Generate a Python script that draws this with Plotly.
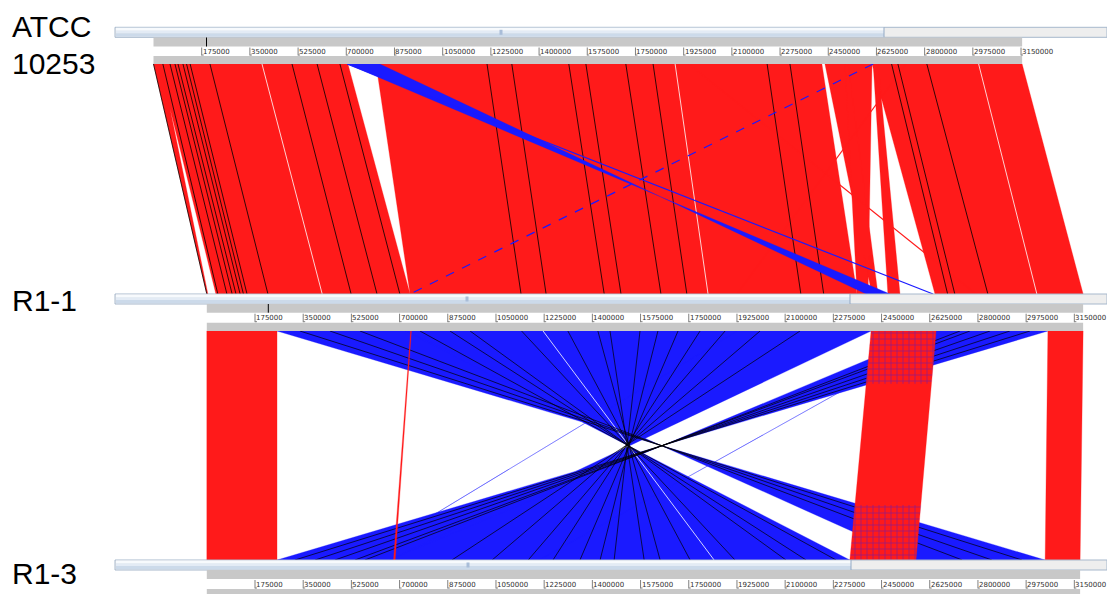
import plotly.graph_objects as go

# ---------------- data (positions in kb) ----------------
genome_len_kb = [3154, 3182, 3171]          # ATCC 10253, R1-1, R1-3
tick_kb = [175, 350, 525, 700, 875, 1050, 1225, 1400, 1575, 1750,
           1925, 2100, 2275, 2450, 2625, 2800, 2975, 3150]
tick_labels = [str(t * 1000) for t in tick_kb]

# Panel 1 : ATCC 10253 (upper) vs R1-1 (lower)
p1_red_q = [(0, 27), (20, 706), (808, 2427), (2438, 2522), (2511, 2609), (2613, 2631), (2609, 3154)]
p1_red_s = [(0, 4), (33, 738), (738, 2361), (2415, 2437), (2361, 2401), (2473, 2517), (2644, 3182)]
p1_red_thin = [(2732, 1925), (1944, 2793)]
p1_blue_q = [(703, 822)]
p1_blue_s = [(2394, 2481)]
p1_blue_thin = [(703, 2637)]
p1_blue_dash = [(2613, 738)]
p1_black = [(0, 0), (34, 40), (60, 73), (78, 92), (89, 106), (107, 121), (120, 133),
            (133, 146), (205, 222), (503, 524), (594, 618), (677, 701), (1211, 1141),
            (1301, 1232), (1508, 1443), (1570, 1504), (1715, 1649), (1814, 1743),
            (2228, 2157), (2311, 2240), (2703, 2716), (2808, 2836), (2680, 2690)]
p1_white = [(394, 419), (1894, 1820), (2996, 3014)]

# Panel 2 : R1-1 (upper) vs R1-3 (lower)
p2_red_q = [(0, 255), (2412, 2648), (3054, 3182), (740, 743)]
p2_red_s = [(0, 255), (2335, 2575), (3044, 3171), (678, 684)]
p2_blue_q = [(255, 723), (723, 2412), (2648, 3054), (1925, 1927), (2694, 2696)]
p2_blue_s = [(2575, 3044), (662, 2335), (255, 662), (552, 554), (1206, 1208)]
p2_black = [(48, 48), (81, 81), (171, 171),
            (774, 2285), (883, 2176), (956, 2103), (1143, 1918), (1311, 1755),
            (1420, 1646), (1464, 1588), (1573, 1479), (1638, 1428), (1711, 1355),
            (1791, 1257), (1882, 1167), (2009, 1036), (2154, 890),
            (338, 2960), (447, 2851), (556, 2743),
            (2735, 574), (2771, 538), (2844, 465), (2916, 393), (2989, 320)]
p2_white = [(1221, 1842)]
p2_hatch = [(2412, 2648, 2335, 2575, 0.0, 0.23), (2412, 2648, 2335, 2575, 0.76, 1.0)]

# ---------------- layout constants ----------------
FIG_W, FIG_H = 1107, 594
BP_PER_PX = 3631.0
REF_PX = 206.8
ORIGIN_PX = [153.5, 206.8, 206.8]
x_off = [(o - REF_PX) * BP_PER_PX for o in ORIGIN_PX]
x_range = [-REF_PX * BP_PER_PX, (FIG_W - REF_PX) * BP_PER_PX]
PANELS = [(64, 294), (331, 560)]
RED = "#FF1A1A"
BLUE = "#1A1AFF"


def gx(track, kb):
    return kb * 1000.0 + x_off[track]


def px(x):
    return x / FIG_W


fig = go.Figure()


def add_blocks(qs, ss, upper, panel, color, reverse):
    yt, yb = PANELS[panel]
    xs, ys = [], []
    for (q1, q2), (s1, s2) in zip(qs, ss):
        a1, a2 = gx(upper, q1), gx(upper, q2)
        b1, b2 = gx(upper + 1, s1), gx(upper + 1, s2)
        if reverse:
            xs += [a1, a2, b1, b2, a1, None]
        else:
            xs += [a1, a2, b2, b1, a1, None]
        ys += [yt, yt, yb, yb, yt, None]
    fig.add_trace(go.Scatter(x=xs, y=ys, mode="lines", fill="toself",
                             fillcolor=color, line=dict(width=0.3, color=color),
                             hoverinfo="skip", showlegend=False))


def add_lines(pairs, upper, panel, color, width=0.8, dash="solid"):
    yt, yb = PANELS[panel]
    xs, ys = [], []
    for q, s in pairs:
        xs += [gx(upper, q), gx(upper + 1, s), None]
        ys += [yt, yb, None]
    fig.add_trace(go.Scatter(x=xs, y=ys, mode="lines",
                             line=dict(width=width, color=color, dash=dash),
                             hoverinfo="skip", showlegend=False))


def add_hatch(items, upper, panel):
    yt, yb = PANELS[panel]
    for q1, q2, s1, s2, f0, f1 in items:
        a1, a2 = gx(upper, q1), gx(upper, q2)
        b1, b2 = gx(upper + 1, s1), gx(upper + 1, s2)
        l0 = a1 + (b1 - a1) * f0
        r0 = a2 + (b2 - a2) * f0
        l1 = a1 + (b1 - a1) * f1
        r1 = a2 + (b2 - a2) * f1
        y0 = yt + (yb - yt) * f0
        y1 = yt + (yb - yt) * f1
        fig.add_trace(go.Scatter(
            x=[l0, r0, r1, l1, l0], y=[y0, y0, y1, y1, y0], mode="lines",
            fill="toself", fillcolor="rgba(0,0,0,0)",
            fillpattern=dict(shape="+", fgcolor=BLUE, size=6, solidity=0.22),
            line=dict(width=0), hoverinfo="skip", showlegend=False))


# panel 1 : red first, blue over
add_blocks(p1_red_q, p1_red_s, 0, 0, RED, False)
add_lines(p1_red_thin, 0, 0, RED, 1.2)
add_lines(p1_white, 0, 0, "white", 0.8)
add_lines(p1_black, 0, 0, "black", 0.8)
add_blocks(p1_blue_q, p1_blue_s, 0, 0, BLUE, True)
add_lines(p1_blue_thin, 0, 0, BLUE, 1.2)
add_lines(p1_blue_dash, 0, 0, BLUE, 1.2, "dash")

# panel 2 : blue first, red over
add_blocks(p2_blue_q, p2_blue_s, 1, 1, BLUE, True)
add_lines(p2_white, 1, 1, "white", 0.8)
add_lines(p2_black, 1, 1, "black", 0.7)
add_blocks(p2_red_q, p2_red_s, 1, 1, RED, False)
add_hatch(p2_hatch, 1, 1)

shapes = []
annotations = []

# scrollbars : (y0, y1, thumb_end_px, grip_px)
SCROLL = [(27.3, 37.3, 884, 501), (294, 304, 850, 467), (560, 570, 851, 468)]
# rulers : (gray1_y0, white_y0, white_y1, gray2_y1)
RULER = [(37.5, 46.5, 56, 64), (304, 312.7, 322.7, 331), (570, 579, 589, 600)]

for t in range(3):
    y0, y1, tend, grip = SCROLL[t]
    shapes.append(dict(type="rect", xref="paper", yref="y", x0=px(115), x1=1,
                       y0=y0, y1=y1, fillcolor="#EEEEEE",
                       line=dict(color="#A7B8CC", width=1), layer="above"))
    h = (y1 - y0)
    stripes = [("#F7FAFD", 0.0, 0.3), ("#E3EBF5", 0.3, 0.6), ("#CCDAEA", 0.6, 1.0)]
    for col, f0, f1 in stripes:
        shapes.append(dict(type="rect", xref="paper", yref="y", x0=px(116), x1=px(tend),
                           y0=y0 + 0.5 + f0 * (h - 1), y1=y0 + 0.5 + f1 * (h - 1),
                           fillcolor=col, line=dict(width=0), layer="above"))
    shapes.append(dict(type="line", xref="paper", yref="y", x0=px(tend), x1=px(tend),
                       y0=y0, y1=y1, line=dict(color="#93A9C4", width=1), layer="above"))
    shapes.append(dict(type="rect", xref="paper", yref="y", x0=px(grip - 1.5), x1=px(grip + 1.5),
                       y0=y0 + 2.5, y1=y1 - 2.5, fillcolor="#A9BDD8",
                       line=dict(width=0), layer="above"))

    g0, w0, w1, g1 = RULER[t]
    xa, xb = gx(t, 0), gx(t, genome_len_kb[t])
    shapes.append(dict(type="rect", xref="x", yref="y", x0=xa, x1=xb, y0=g0, y1=w0,
                       fillcolor="#C8C8C8", line=dict(width=0), layer="above"))
    shapes.append(dict(type="rect", xref="x", yref="y", x0=xa, x1=xb, y0=w1, y1=g1,
                       fillcolor="#C8C8C8", line=dict(width=0), layer="above"))
    for kb, lab in zip(tick_kb, tick_labels):
        xt = gx(t, kb)
        shapes.append(dict(type="line", xref="x", yref="y", x0=xt, x1=xt,
                           y0=w0 + 1, y1=w1 - 0.5, line=dict(color="#808080", width=1),
                           layer="above"))
        shapes.append(dict(type="line", xref="x", yref="y", x0=xt, x1=xt + 2 * BP_PER_PX,
                           y0=w1 - 1, y1=w1 - 1, line=dict(color="#808080", width=1),
                           layer="above"))
        annotations.append(dict(xref="x", yref="y", x=xt, y=(w0 + w1) / 2 + 0.5,
                                text=lab, showarrow=False, xanchor="left", yanchor="middle",
                                font=dict(family="DejaVu Sans", size=7, color="#303030"),
                                borderpad=0))

# small black markers on rulers
shapes.append(dict(type="line", xref="paper", yref="y", x0=px(206.5), x1=px(206.5),
                   y0=37.5, y1=46.5, line=dict(color="black", width=1), layer="above"))
shapes.append(dict(type="line", xref="paper", yref="y", x0=px(268.3), x1=px(268.3),
                   y0=304, y1=312.7, line=dict(color="black", width=1), layer="above"))

# genome names
name_font = dict(family="Liberation Sans", size=30, color="black")
for text, y in [("ATCC", 26.5), ("10253", 63.5), ("R1-1", 300), ("R1-3", 573.5)]:
    annotations.append(dict(xref="paper", yref="y", x=px(10), y=y, text=text,
                            showarrow=False, xanchor="left", yanchor="middle",
                            font=name_font))

fig.update_layout(
    width=FIG_W, height=FIG_H, margin=dict(l=0, r=0, t=0, b=0),
    paper_bgcolor="white", plot_bgcolor="white",
    xaxis=dict(range=x_range, visible=False, fixedrange=True),
    yaxis=dict(range=[FIG_H, 0], visible=False, fixedrange=True),
    shapes=shapes, annotations=annotations, showlegend=False,
)
fig.write_html("out.html")
